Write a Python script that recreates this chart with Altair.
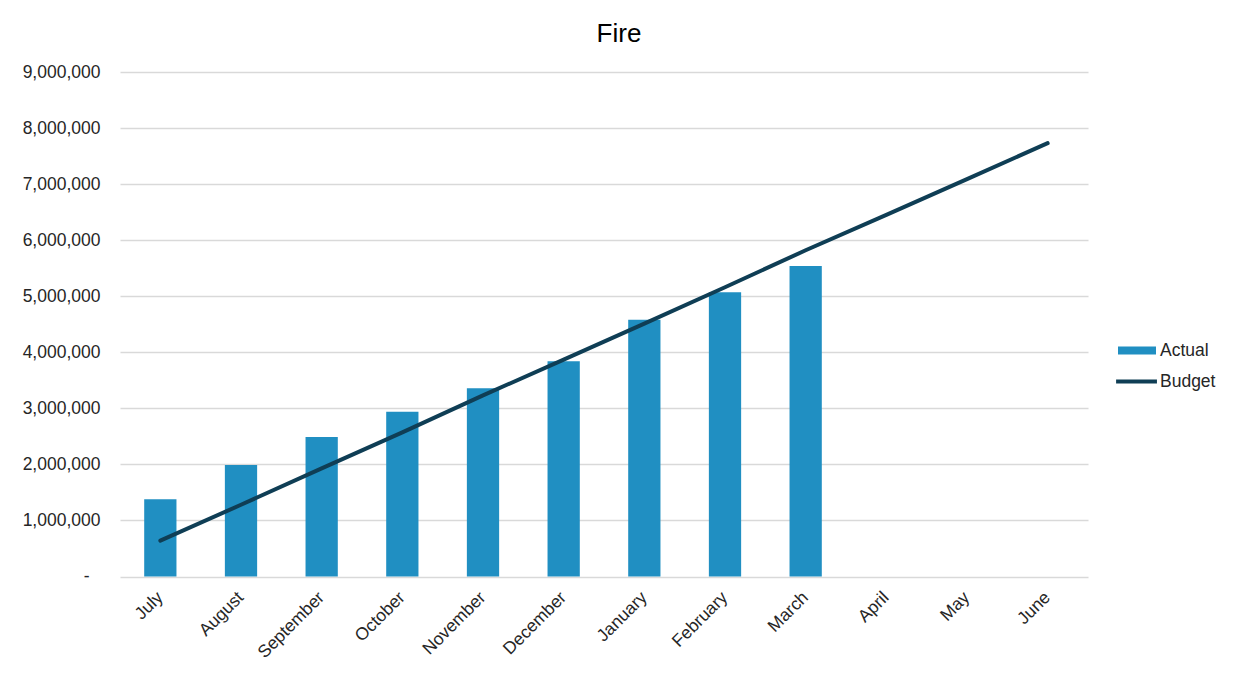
import altair as alt
import pandas as pd

months = ["July", "August", "September", "October", "November", "December",
          "January", "February", "March", "April", "May", "June"]
actual = [1380000, 1990000, 2490000, 2940000, 3360000, 3840000,
          4580000, 5070000, 5540000, None, None, None]
budget = [640000, 1280000, 1930000, 2570000, 3230000, 3870000,
          4510000, 5160000, 5820000, 6450000, 7090000, 7730000]
series_names = ["Actual", "Budget"]
y_ticks = [0, 1000000, 2000000, 3000000, 4000000, 5000000, 6000000, 7000000, 8000000, 9000000]

rows = []
for m, a, b in zip(months, actual, budget):
    rows.append({"month": m, "series": "Actual", "value": a})
    rows.append({"month": m, "series": "Budget", "value": b})
df = pd.DataFrame(rows)

FONT = "Liberation Sans"
BAR_C = "#208FC2"
LINE_C = "#0F3E55"
FS = 17.5

x_enc = alt.X(
    "month:N", sort=months, title=None,
    scale=alt.Scale(paddingInner=0.6, paddingOuter=0.3),
    axis=alt.Axis(labelAngle=-45, labelAlign="right", labelBaseline="middle",
                  labelPadding=18, ticks=False, domain=False, grid=False,
                  labelFont=FONT, labelFontSize=FS, labelColor="#262626"),
)
y_enc = alt.Y(
    "value:Q", title=None,
    scale=alt.Scale(domain=[0, 9000000], nice=False),
    axis=alt.Axis(values=y_ticks, ticks=False, domain=False, grid=True,
                  gridColor="#D9D9D9", gridWidth=1.3,
                  labelExpr="datum.value == 0 ? '-' : format(datum.value, ',')",
                  labelPadding={"condition": {"test": "datum.value == 0", "value": 31}, "value": 20},
                  labelFont=FONT, labelFontSize=FS,
                  labelColor="#262626"),
)
color_enc = alt.Color(
    "series:N", title=None,
    scale=alt.Scale(domain=series_names, range=[BAR_C, LINE_C]),
    legend=alt.Legend(
        orient="none", legendX=1017, legendY=269,
        symbolType={"expr": "datum.value == 'Actual' ? 'M-3,-0.42H1V0.42H-3Z' : 'M-3.2,-0.21H1.1V0.21H-3.2Z'"},
        symbolSize=361, symbolStrokeWidth=0, symbolOpacity=1,
        labelFont=FONT, labelFontSize=FS, labelColor="#262626",
        labelOffset=4, rowPadding=13,
    ),
)

bars = alt.Chart(df).transform_filter(
    "datum.series == 'Actual' && isValid(datum.value)"
).mark_bar(color=BAR_C).encode(x=x_enc, y=y_enc, color=color_enc)

line = alt.Chart(df).transform_filter(
    "datum.series == 'Budget'"
).mark_line(strokeWidth=4, strokeCap="round", strokeJoin="round").encode(
    x=x_enc, y=y_enc, color=color_enc)

chart = alt.layer(bars, line).properties(
    width=968, height=504.5,
    background="white",
    title=alt.TitleParams("Fire", font=FONT, fontSize=26, fontWeight="normal",
                          color="#000000", anchor="middle", frame="group",
                          dx=15, offset=-5, baseline="alphabetic"),
    padding={"left": 120, "top": 72, "right": 149, "bottom": 104.5},
    autosize=alt.AutoSizeParams(type="none"),
).configure_view(stroke=None)

chart.save("out.html", embed_options={"renderer": "svg", "actions": False})
